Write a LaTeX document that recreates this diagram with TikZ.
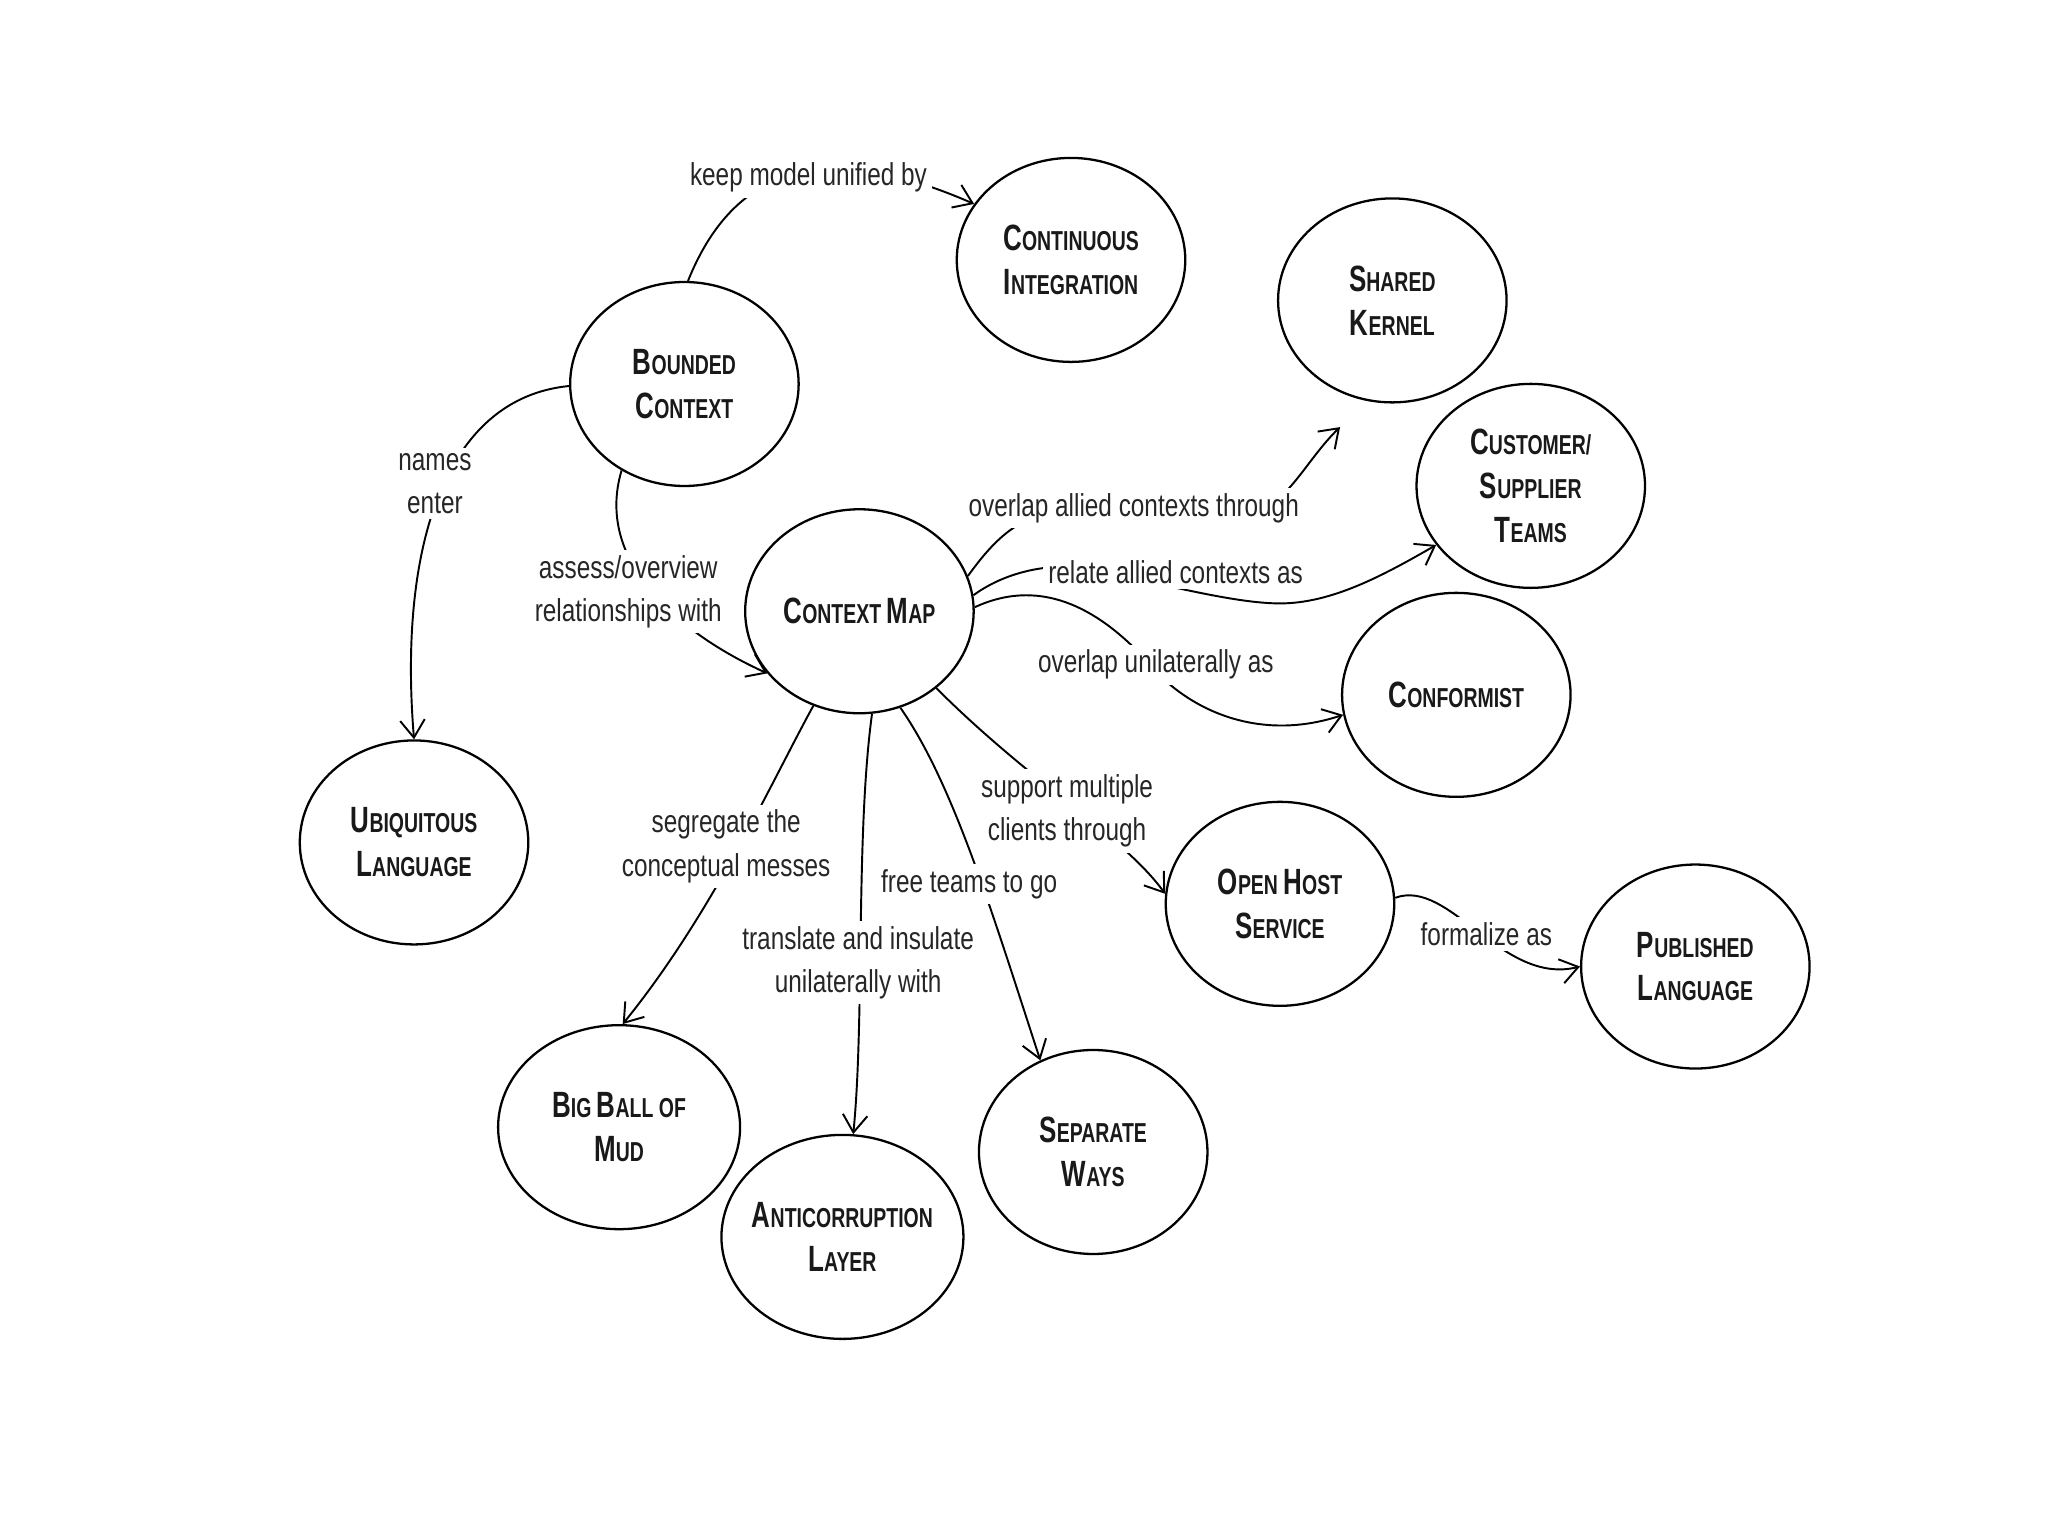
\documentclass[tikz,border=0pt]{standalone}
\usepackage{fontspec}
\setmainfont{Liberation Sans}[FakeStretch=0.77]
\newfontfamily\tfont{Liberation Sans}[FakeStretch=0.71]
\usetikzlibrary{shapes.geometric,arrows.meta}
\newcommand\bigc[1]{{\fontsize{10.4}{12.5}\selectfont #1}}
\begin{document}
\begin{tikzpicture}[x=0.01306cm,y=-0.01306cm,
  circ/.style={ellipse, draw, line width=0.65pt, minimum width=2.285cm, minimum height=2.04cm,
    inner sep=0pt, align=center, text=black!90,
    font=\tfont\bfseries\fontsize{7.8}{12.5}\selectfont},
  lbl/.style={fill=white, inner sep=1.5pt, align=center, text=black!85,
    font=\fontsize{9}{12.3}\selectfont},
  arr/.style={-{Straight Barb[length=5pt,width=7pt]}, line width=0.55pt},
  ]
\useasboundingbox (0,0) rectangle (1568,1176);
\fill[white] (0,0) rectangle (1568,1176);

% concept nodes
\node[circ] (bc)  at (524,294)  {\bigc{B}OUNDED\\\bigc{C}ONTEXT};
\node[circ] (ci)  at (820,199)  {\bigc{C}ONTINUOUS\\\bigc{I}NTEGRATION};
\node[circ] (sk)  at (1066,230) {\bigc{S}HARED\\\bigc{K}ERNEL};
\node[circ] (cst) at (1172,372) {\bigc{C}USTOMER/\\\bigc{S}UPPLIER\\\bigc{T}EAMS};
\node[circ] (conf) at (1115,532) {\bigc{C}ONFORMIST};
\node[circ] (cm)  at (658,468)  {\bigc{C}ONTEXT \bigc{M}AP};
\node[circ] (ul)  at (317,645)  {\bigc{U}BIQUITOUS\\\bigc{L}ANGUAGE};
\node[circ] (ohs) at (980,692)  {\bigc{O}PEN \bigc{H}OST\\\bigc{S}ERVICE};
\node[circ] (pl)  at (1298,740) {\bigc{P}UBLISHED\\\bigc{L}ANGUAGE};
\node[circ, minimum width=2.42cm, inner xsep=-3pt] (bbm) at (474,863) {\bigc{B}IG \bigc{B}ALL OF\\\bigc{M}UD};
\node[circ, minimum width=2.42cm, inner xsep=-3pt] (acl) at (645,947) {\bigc{A}NTICORRUPTION\\\bigc{L}AYER};
\node[circ] (sw)  at (837,882)  {\bigc{S}EPARATE\\\bigc{W}AYS};

\coordinate (skin) at (1026,327);

% connectors
\draw[arr] (bc.88) .. controls (565,120) and (640,110) .. (ci.150);
\draw[arr] (bc.181) .. controls (340,305) and (305,420) .. (ul.90);
\draw[arr] (bc.234) .. controls (455,430) and (520,485) .. (cm.214);
\draw[arr] (cm.18) .. controls (760,415) and (780,392) .. (820,390)
  -- (960,390) .. controls (985,388) and (1000,352) .. (skin);
\draw[arr] (cm.8) .. controls (775,434) and (815,430) .. (840,437)
  .. controls (890,447) and (945,462) .. (980,462)
  .. controls (1020,462) and (1060,440) .. (cst.212);
\draw[arr] (cm.2) .. controls (800,440) and (845,470) .. (878,506)
  .. controls (905,540) and (960,570) .. (conf.190);
\draw[arr] (cm.315) .. controls (790,600) and (860,640) .. (ohs.175);
\draw[arr] (cm.293) .. controls (730,600) and (760,700) .. (sw.120);
\draw[arr] (cm.277) .. controls (655,640) and (662,780) .. (acl.84);
\draw[arr] (cm.244) .. controls (590,600) and (545,700) .. (bbm.88);
\draw[arr] (ohs.3) .. controls (1110,672) and (1150,755) .. (pl.180);

% connector labels
\node[lbl] (l1)  at (619,136)  {keep model unified by};
\node[lbl] (l2)  at (333,370)  {names\\enter};
\node[lbl] (l3)  at (481,453)  {assess/overview\\relationships with};
\node[lbl] (l4)  at (868,389)  {overlap allied contexts through};
\node[lbl] (l5)  at (900,438)  {relate allied contexts as};
\node[lbl] (l6)  at (885,509)  {overlap unilaterally as};
\node[lbl] (l7)  at (817,621)  {support multiple\\clients through};
\node[lbl] (l8)  at (742,677)  {free teams to go};
\node[lbl] (l9)  at (657,737)  {translate and insulate\\unilaterally with};
\node[lbl] (l10) at (556,648)  {segregate the\\conceptual messes};
\node[lbl] (l11) at (1138,715) {formalize as};
\end{tikzpicture}
\end{document}
